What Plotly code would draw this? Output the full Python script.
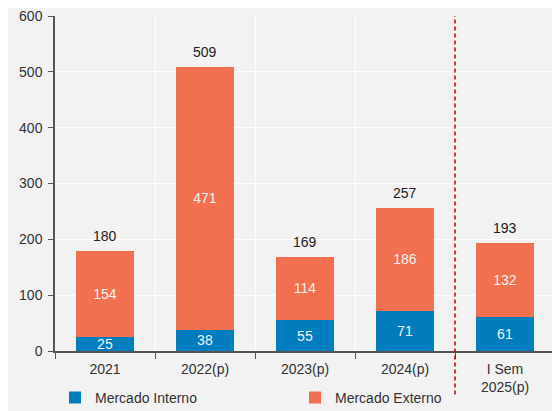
import plotly.graph_objects as go

categories = ["2021", "2022(p)", "2023(p)", "2024(p)", "I Sem<br>2025(p)"]
interno = [25, 38, 55, 71, 61]
externo = [154, 471, 114, 186, 132]
totals = [180, 509, 169, 257, 193]

BLUE = "#007DBC"
ORANGE = "#F0704F"
FONT = "Liberation Sans, Arial, sans-serif"

fig = go.Figure()
fig.add_trace(go.Bar(
    x=categories, y=interno, name="Mercado Interno", marker=dict(color=BLUE, line=dict(width=0)),
    text=interno, textposition="inside", insidetextanchor="middle", textangle=0,
    constraintext="none",
    textfont=dict(color="#f2f2f2", size=14, family=FONT), width=0.58,
))
fig.add_trace(go.Bar(
    x=categories, y=externo, name="Mercado Externo", marker=dict(color=ORANGE, line=dict(width=0)),
    text=externo, textposition="inside", insidetextanchor="middle", textangle=0,
    constraintext="none",
    textfont=dict(color="#f2f2f2", size=14, family=FONT), width=0.58,
))

for i, t in enumerate(totals):
    fig.add_annotation(x=i, y=t, xref="x", yref="y", text=str(t), showarrow=False,
                       yanchor="bottom", yshift=5,
                       font=dict(color="#222222", size=14, family=FONT))

fig.add_shape(type="line", xref="x", yref="paper", x0=3.5, x1=3.5, y0=-0.13, y1=1.0,
              line=dict(color="#C00000", width=1.5, dash="4px,3px"))

# page body has an 8px default margin, so the figure is sized to fit the window
fig.update_layout(
    barmode="stack",
    width=552, height=403,
    margin=dict(l=47, r=5, t=8, b=60, autoexpand=False),
    paper_bgcolor="#f2f2f2", plot_bgcolor="#f2f2f2",
    font=dict(family=FONT, size=14, color="#333333"),
    legend=dict(orientation="h", x=0.0, xanchor="left", y=-0.092, yanchor="top",
                font=dict(size=14, color="#333333"), bgcolor="rgba(0,0,0,0)",
                traceorder="normal", itemwidth=30, entrywidth=195),
)
fig.update_xaxes(
    type="category", range=[-0.5, 4.5], tickson="boundaries", showgrid=True,
    gridcolor="#ffffff", gridwidth=1,
    showline=True, linecolor="#555555", linewidth=1.5, ticks="outside", ticklen=6,
    tickcolor="#555555", tickfont=dict(size=14, color="#333333"), automargin=False,
    ticklabelstandoff=4,
)
fig.update_yaxes(
    range=[0, 600], dtick=100, showgrid=True, gridcolor="#ffffff", gridwidth=1,
    showline=True, linecolor="#555555", linewidth=1.5, ticks="outside", ticklen=5,
    tickcolor="#555555", tickfont=dict(size=14, color="#333333"), zeroline=False,
    automargin=False, ticklabeloverflow="allow", ticklabelstandoff=3,
)

fig.write_html("out.html")
